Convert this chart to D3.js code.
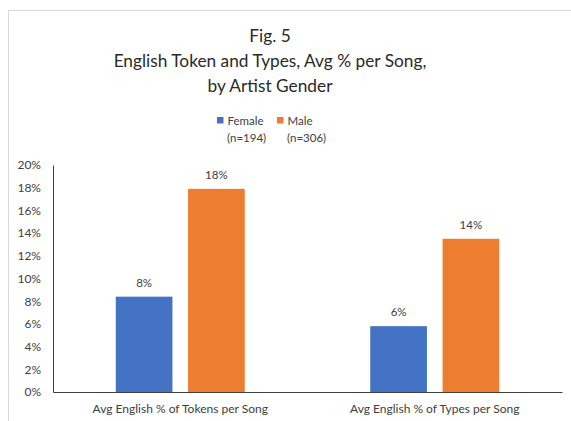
<!DOCTYPE html>
<html>
<head>
<meta charset="utf-8">
<script src="https://cdn.jsdelivr.net/npm/d3@7"></script>
<style>
  html, body { margin: 0; padding: 0; background: #fff; }
  svg { display: block; }
  text { font-family: Lato, "Open Sans", sans-serif; }
</style>
</head>
<body>
<svg id="chart" width="571" height="421"></svg>
<script>
const titleLines = ["Fig. 5", "English Token and Types, Avg % per Song,", "by Artist Gender"];
const categories = ["Avg English % of Tokens per Song", "Avg English % of Types per Song"];
const seriesNames = ["Female", "Male"];
const seriesNotes = ["(n=194)", "(n=306)"];
const seriesColors = ["#4472C4", "#ED7D31"];
const femaleValues = [0.084, 0.058];
const maleValues = [0.179, 0.135];
const yTicks = [0, 0.02, 0.04, 0.06, 0.08, 0.10, 0.12, 0.14, 0.16, 0.18, 0.20];

const svg = d3.select("#chart");
const W = 571, H = 421;
const margin = { left: 53, right: 9, top: 165, bottom: 29 };

// chart area border
svg.append("rect")
  .attr("x", 8.5).attr("y", 10.5)
  .attr("width", W + 10).attr("height", H + 10)
  .attr("fill", "#fff").attr("stroke", "#D9D9D9").attr("stroke-width", 1);

// title
const titleY = [42, 67, 92];
svg.append("g").selectAll("text").data(titleLines).join("text")
  .attr("x", 270).attr("y", (d, i) => titleY[i])
  .attr("text-anchor", "middle")
  .attr("font-size", 17.3)
  .attr("font-weight", 400)
  .attr("fill", "#2a2a2a")
  .text(d => d);

const x0 = d3.scaleBand().domain(categories)
  .range([margin.left, W - margin.right]).paddingInner(0).paddingOuter(0);
const x1 = d3.scaleBand().domain(seriesNames)
  .range([0, x0.bandwidth()]).paddingInner(0.216).paddingOuter(0.868);
const y = d3.scaleLinear().domain([0, 0.20]).range([H - margin.bottom, margin.top]);

// y axis
const yAxis = d3.axisLeft(y).tickValues(yTicks).tickFormat(d3.format(".0%")).tickSize(0).tickPadding(12);
const gy = svg.append("g").attr("transform", `translate(${margin.left},0)`).call(yAxis);
gy.select(".domain").attr("stroke", "#404040").attr("stroke-width", 1);
gy.selectAll("text").attr("font-size", 12).attr("fill", "#404040").attr("font-family", "Lato, sans-serif");

// bars
const data = categories.map((c, i) => ({ cat: c, vals: [femaleValues[i], maleValues[i]] }));
const groups = svg.append("g").selectAll("g").data(data).join("g")
  .attr("transform", d => `translate(${x0(d.cat)},0)`);
groups.selectAll("rect").data(d => d.vals.map((v, j) => ({ s: seriesNames[j], v, j })))
  .join("rect")
  .attr("x", d => x1(d.s)).attr("width", x1.bandwidth())
  .attr("y", d => y(d.v)).attr("height", d => y(0) - y(d.v))
  .attr("fill", d => seriesColors[d.j]);
groups.selectAll("text.val").data(d => d.vals.map((v, j) => ({ s: seriesNames[j], v, j })))
  .join("text").attr("class", "val")
  .attr("x", d => x1(d.s) + x1.bandwidth() / 2)
  .attr("y", d => y(d.v) - 10)
  .attr("text-anchor", "middle")
  .attr("font-size", 11.5).attr("fill", "#404040")
  .text(d => d3.format(".0%")(d.v));

// x axis
const xAxis = d3.axisBottom(x0).tickSize(0).tickPadding(12);
const gx = svg.append("g").attr("transform", `translate(0,${y(0)})`).call(xAxis);
gx.select(".domain").attr("stroke", "#404040").attr("stroke-width", 1);
gx.selectAll("text").attr("font-size", 12).attr("fill", "#404040").attr("font-family", "Lato, sans-serif");

// legend
const legendX = [217, 277];
const leg = svg.append("g").selectAll("g").data(seriesNames).join("g")
  .attr("transform", (d, i) => `translate(${legendX[i]},0)`);
leg.append("rect").attr("x", 0).attr("y", 117).attr("width", 6.5).attr("height", 6.5)
  .attr("fill", (d, i) => seriesColors[i]);
leg.append("text").attr("x", 10.5).attr("y", 124.5)
  .attr("font-size", 11.5).attr("fill", "#404040").text(d => d);
leg.append("text").attr("x", 10).attr("y", 142)
  .attr("font-size", 11.5).attr("fill", "#404040").text((d, i) => seriesNotes[i]);
</script>
</body>
</html>
